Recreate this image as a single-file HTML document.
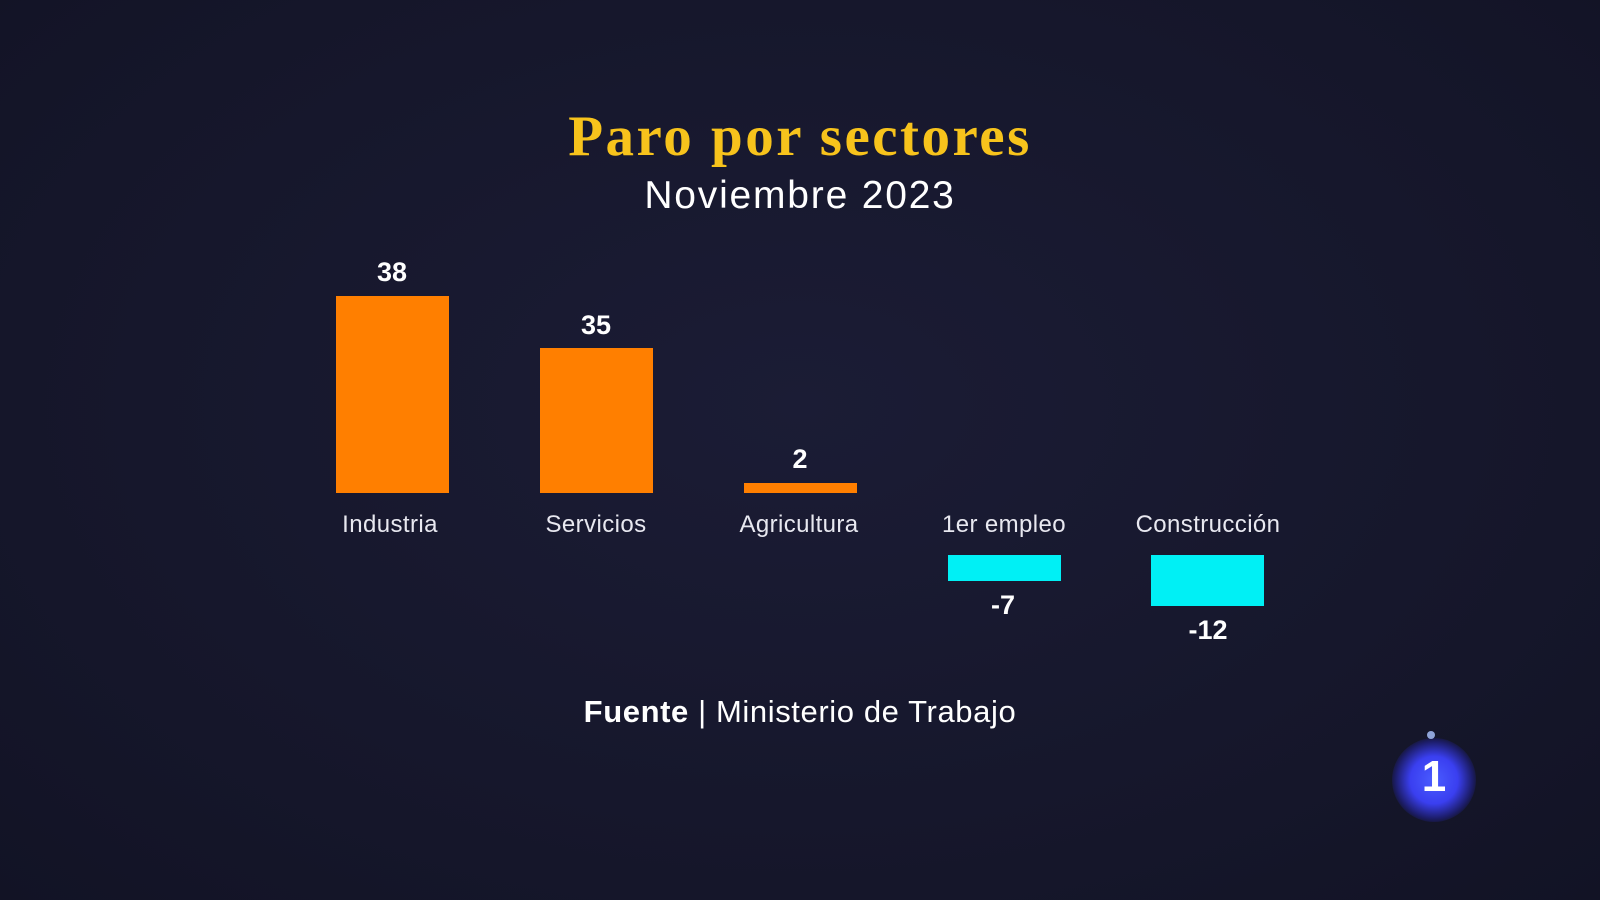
<!DOCTYPE html>
<html><head><meta charset="utf-8"><style>
html,body{margin:0;padding:0;}
body{width:1600px;height:900px;background:#17182e;position:relative;overflow:hidden;font-family:"Liberation Sans",sans-serif;color:#fff;}
.a{position:absolute;}
.bar{position:absolute;width:113px;}
.o{background:#ff7f00;}
.c{background:#00f0f5;}
.n{position:absolute;width:140px;text-align:center;font-weight:bold;font-size:27px;}
.l{position:absolute;width:180px;text-align:center;font-size:24px;color:#e8e8f0;top:511px;letter-spacing:0.4px;}
</style></head><body>
<div class="a" style="left:0;top:0;width:1600px;height:900px;background:radial-gradient(ellipse at 50% 45%,#1b1c35 0%,#15162a 70%,#121325 100%);"></div>
<div class="a" style="left:0;top:104px;width:1600px;text-align:center;font-family:'Liberation Serif',serif;font-weight:bold;font-size:57px;letter-spacing:2.5px;color:#f7c31c;">Paro por sectores</div>
<div class="a" style="left:0;top:174px;width:1600px;text-align:center;font-size:39px;letter-spacing:1.8px;color:#fff;">Noviembre 2023</div>

<div class="bar o" style="left:336px;top:296px;height:197px;"></div>
<div class="bar o" style="left:540px;top:348px;height:145px;"></div>
<div class="bar o" style="left:744px;top:483px;height:10px;"></div>
<div class="bar c" style="left:948px;top:555px;height:26px;"></div>
<div class="bar c" style="left:1151px;top:555px;height:51px;"></div>

<div class="n" style="left:322px;top:257px;">38</div>
<div class="n" style="left:526px;top:310px;">35</div>
<div class="n" style="left:730px;top:444px;">2</div>
<div class="n" style="left:933px;top:590px;">-7</div>
<div class="n" style="left:1138px;top:615px;">-12</div>

<div class="l" style="left:300px;">Industria</div>
<div class="l" style="left:506px;">Servicios</div>
<div class="l" style="left:709px;">Agricultura</div>
<div class="l" style="left:914px;">1er empleo</div>
<div class="l" style="left:1118px;">Construcción</div>

<div class="a" style="left:0;top:694px;width:1600px;text-align:center;font-size:31px;letter-spacing:0.6px;"><b>Fuente</b> | Ministerio de Trabajo</div>

<div class="a" style="left:1392px;top:738px;width:84px;height:84px;border-radius:50%;background:radial-gradient(circle,#4a5cff 0%,#3a3ff0 40%,rgba(40,40,200,0.4) 65%,rgba(23,24,46,0) 75%);"></div>
<div class="a" style="left:1392px;top:752px;width:84px;text-align:center;font-weight:bold;font-size:44px;color:#fff;">1</div>
<div class="a" style="left:1427px;top:731px;width:8px;height:8px;border-radius:50%;background:#8fa4d8;"></div>
</body></html>
